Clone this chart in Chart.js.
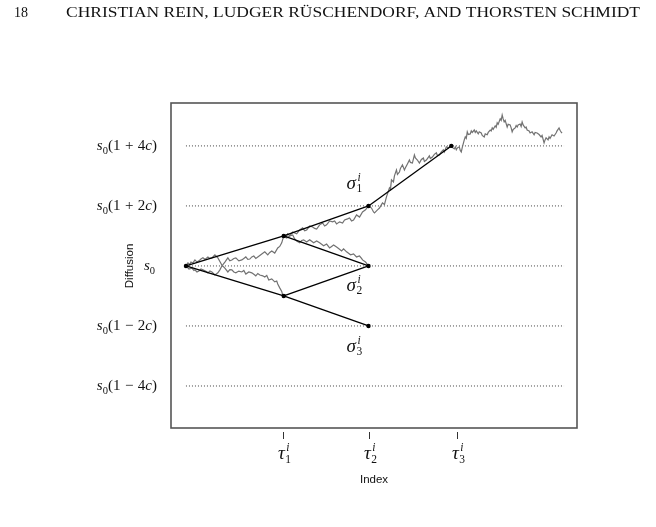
<!DOCTYPE html>
<html>
<head>
<meta charset="utf-8">
<script src="https://cdn.jsdelivr.net/npm/chart.js@4.4.1/dist/chart.umd.min.js"></script>
<style>
  html, body { margin: 0; padding: 0; background: #fff; }
  #wrap { width: 656px; height: 527px; }
</style>
</head>
<body>
<div id="wrap"><canvas id="c" width="656" height="527"></canvas></div>
<script>
// Binomial-tree sketch over simulated diffusion paths (index vs. level in units of c).

const walkUpDown = [
  [0, 0], [2, 0.10], [4, 0.05], [5, 0.13], [7, 0.10], [9, 0.20], [11, 0.13], [13, 0.17], [15, 0.23],
  [17, 0.27], [19, 0.22], [22, 0.30], [24, 0.25], [26, 0.27], [29, 0.37], [32, 0.27], [34, 0.15],
  [36, 0.03], [39, -0.07], [42, -0.20], [44, -0.12], [46, -0.13], [48, -0.20], [50, -0.23],
  [53, -0.17], [56, -0.20], [58, -0.15], [60, -0.27], [63, -0.20], [66, -0.23], [68, -0.28],
  [70, -0.33], [72, -0.25], [74, -0.30], [77, -0.33], [79, -0.37], [81, -0.32], [83, -0.47],
  [86, -0.43], [89, -0.53], [91, -0.50], [92, -0.60], [94, -0.73], [96, -0.85], [97, -0.97], [98, -1.0],
];

const walkDownUp = [
  [0, 0], [3, -0.10], [6, -0.07], [8, -0.15], [9, -0.13], [11, -0.20], [13, -0.17], [15, -0.10],
  [17, -0.13], [20, -0.18], [22, -0.23], [24, -0.17], [26, -0.20], [29, -0.30], [32, -0.23],
  [34, -0.13], [36, 0], [39, 0.13], [42, 0.27], [44, 0.17], [46, 0.20], [48, 0.25], [50, 0.27],
  [53, 0.17], [56, 0.20], [58, 0.25], [60, 0.30], [62, 0.22], [64, 0.23], [66, 0.30], [68, 0.33],
  [70, 0.25], [72, 0.30], [74, 0.35], [76, 0.40], [79, 0.47], [82, 0.37], [84, 0.45], [86, 0.50],
  [89, 0.43], [92, 0.60], [94, 0.65], [96, 0.77], [98, 1.0],
  [100, 0.95], [102, 1.07], [104, 1.00], [107, 1.13], [109, 1.10], [111, 1.07], [114, 1.20],
  [117, 1.27], [119, 1.17], [121, 1.20], [124, 1.33], [127, 1.30], [129, 1.25], [131, 1.23],
  [134, 1.37], [137, 1.43], [139, 1.33], [141, 1.37], [144, 1.50], [147, 1.47], [149, 1.50],
  [151, 1.40], [154, 1.47], [157, 1.43], [159, 1.53], [162, 1.57], [164, 1.60], [166, 1.50],
  [168, 1.53], [171, 1.70], [174, 1.63], [177, 1.80], [180, 1.87], [183, 2.0], [186, 1.93],
  [188, 1.80], [189, 1.77], [192, 1.87], [194, 1.93], [197, 2.10], [199, 2.05], [201, 2.30],
  [204, 2.60], [205, 2.55], [206, 2.87], [208, 2.80], [209, 3.00], [211, 3.20], [212, 3.05],
  [214, 3.13], [215, 3.25], [217, 3.37], [219, 3.20], [220, 3.27], [222, 3.40], [224, 3.53],
  [225, 3.45], [227, 3.43], [229, 3.70], [230, 3.60], [232, 3.53], [234, 3.43], [236, 3.55],
  [238, 3.60], [239, 3.48], [241, 3.53], [244, 3.67], [245, 3.58], [247, 3.63], [249, 3.72],
  [251, 3.77], [252, 3.68], [254, 3.70], [256, 3.80], [258, 3.87], [259, 3.80], [261, 3.97],
  [263, 3.93], [266, 4.03], [267, 3.95], [269, 3.90], [270, 3.97], [271, 3.87], [272, 3.93],
  [274, 3.97], [275, 3.85], [276, 3.80], [277, 3.95], [279, 4.20], [280, 4.30], [281, 4.25],
  [282, 4.47], [283, 4.38], [285, 4.40], [286, 4.50], [287, 4.45], [289, 4.53], [290, 4.45],
  [291, 4.50], [293, 4.40], [294, 4.47], [296, 4.43], [297, 4.35], [299, 4.30], [300, 4.40],
  [302, 4.37], [303, 4.45], [305, 4.53], [306, 4.50], [307, 4.60], [308, 4.55], [310, 4.67],
  [311, 4.62], [312, 4.77], [313, 4.72], [315, 4.90], [316, 4.85], [317, 5.03], [318, 4.90],
  [319, 4.80], [320, 4.85], [322, 4.63], [323, 4.72], [325, 4.70], [326, 4.60], [327, 4.47],
  [328, 4.55], [330, 4.60], [331, 4.68], [332, 4.63], [333, 4.70], [335, 4.73], [336, 4.65],
  [337, 4.80], [338, 4.70], [340, 4.60], [341, 4.63], [342, 4.53], [344, 4.50], [345, 4.43],
  [347, 4.47], [349, 4.37], [350, 4.45], [352, 4.43], [354, 4.38], [356, 4.30], [357, 4.35],
  [359, 4.10], [360, 4.20], [361, 4.27], [363, 4.20], [364, 4.30], [365, 4.25], [367, 4.37],
  [369, 4.33], [371, 4.43], [372, 4.50], [374, 4.60], [375, 4.52], [376, 4.47], [377, 4.43],
];

const walkBranch = [
  [98, 1.0], [101, 0.93], [104, 1.0], [107, 1.03], [109, 0.90], [111, 0.83], [114, 0.77],
  [116, 0.85], [118, 0.87], [121, 0.80], [124, 0.87], [126, 0.82], [128, 0.77], [131, 0.83],
  [134, 0.77], [136, 0.72], [138, 0.67], [141, 0.73], [144, 0.60], [146, 0.65], [148, 0.70],
  [151, 0.63], [153, 0.58], [156, 0.50], [158, 0.57], [161, 0.47], [163, 0.42], [165, 0.37],
  [168, 0.40], [171, 0.30], [174, 0.33], [176, 0.25], [177, 0.20], [180, 0.13], [183, 0],
];

// tree nodes (index, level) and the edges between them
const nodeX = [0, 98, 98, 183, 183, 183, 266];
const nodeY = [0, 1, -1, 2, 0, -2, 4];
const treeEdges = [[0, 1], [0, 2], [1, 3], [1, 4], [2, 4], [2, 5], [3, 6]];

// dotted reference levels and their labels
const levelValues = [4, 2, 0, -2, -4];
const levelText = ['(1 + 4c)', '(1 + 2c)', '', '(1 − 2c)', '(1 − 4c)'];
const levelFrom = 0;
const levelTo = 379;

// stopping times on the x axis, stopping levels next to nodes
const tauTicks = [97, 183, 272];
const tauSubs = ['1', '2', '3'];
const sigmaNodes = [3, 4, 5];
const sigmaSubs = ['1', '2', '3'];

const title = 'CHRISTIAN REIN, LUDGER RÜSCHENDORF, AND THORSTEN SCHMIDT';
const pageNo = '18';

const SERIF = '"Liberation Serif", "Times New Roman", serif';
const SANS = '"Liberation Sans", Arial, sans-serif';

const toPts = (pairs) => pairs.map(([x, y]) => ({ x, y }));

const datasets = [];

datasets.push({
  label: 'nodes',
  data: nodeX.map((x, i) => ({ x, y: nodeY[i] })),
  showLine: false,
  pointRadius: 2.2,
  pointBackgroundColor: '#000',
  pointBorderWidth: 0,
  order: 0,
});

treeEdges.forEach(([a, b]) => {
  datasets.push({
    label: 'edge',
    data: [{ x: nodeX[a], y: nodeY[a] }, { x: nodeX[b], y: nodeY[b] }],
    borderColor: '#000',
    borderWidth: 1.3,
    pointRadius: 0,
    order: 1,
  });
});

[walkUpDown, walkDownUp, walkBranch].forEach((w) => {
  datasets.push({
    label: 'path',
    data: toPts(w),
    borderColor: '#727272',
    borderWidth: 1.2,
    pointRadius: 0,
    tension: 0,
    order: 2,
  });
});

levelValues.forEach((v) => {
  datasets.push({
    label: 'level',
    data: [{ x: levelFrom, y: v }, { x: levelTo, y: v }],
    borderColor: '#444',
    borderWidth: 1,
    borderDash: [1, 2],
    pointRadius: 0,
    order: 3,
  });
});

// --- little math-text renderer: runs of upright/italic text, gaps, stacked sub/sup
function runWidth(ctx, r) {
  if (r.gap) return r.gap;
  if (r.stack) {
    ctx.font = r.supF;
    const a = ctx.measureText(r.sup).width;
    ctx.font = r.subF;
    return Math.max(a, ctx.measureText(r.sub).width);
  }
  ctx.font = r.f;
  return ctx.measureText(r.t).width;
}

function drawRuns(ctx, runs, x, y, align) {
  const w = runs.reduce((s, r) => s + runWidth(ctx, r), 0);
  let cx = align === 'right' ? x - w : align === 'center' ? x - w / 2 : x;
  runs.forEach((r) => {
    const rw = runWidth(ctx, r);
    if (r.stack) {
      ctx.font = r.supF;
      ctx.fillText(r.sup, cx + 1, y - r.up);
      ctx.font = r.subF;
      ctx.fillText(r.sub, cx, y + r.down);
    } else if (!r.gap) {
      ctx.font = r.f;
      ctx.fillText(r.t, cx, y + (r.dy || 0));
    }
    cx += rw;
  });
}

function levelRuns(txt) {
  const runs = [
    { t: 's', f: `italic 15px ${SERIF}` },
    { t: '0', f: `10.5px ${SERIF}`, dy: 3.5 },
  ];
  for (const ch of txt) {
    if (ch === ' ') runs.push({ gap: 4.5 });
    else if (ch === 'c') runs.push({ t: ch, f: `italic 15px ${SERIF}` });
    else runs.push({ t: ch, f: `15px ${SERIF}` });
  }
  return runs;
}

function greekRuns(sym, sub) {
  return [
    { t: sym, f: `italic 19px ${SERIF}` },
    { gap: 0.5 },
    { stack: true, sup: 'i', sub, supF: `italic 11.5px ${SERIF}`, subF: `11.5px ${SERIF}`, up: 8, down: 3.5 },
  ];
}

const annotate = {
  id: 'annotate',
  afterDraw(chart) {
    const { ctx, chartArea: a, scales: { x, y } } = chart;
    ctx.save();
    ctx.fillStyle = '#111';
    ctx.textBaseline = 'alphabetic';

    // frame
    ctx.strokeStyle = '#555';
    ctx.lineWidth = 1.6;
    ctx.strokeRect(a.left, a.top, a.right - a.left, a.bottom - a.top);

    // stopping-time ticks
    ctx.strokeStyle = '#333';
    ctx.lineWidth = 1;
    tauTicks.forEach((v, k) => {
      const px = Math.round(x.getPixelForValue(v)) + 0.5;
      ctx.beginPath();
      ctx.moveTo(px, a.bottom + 4);
      ctx.lineTo(px, a.bottom + 11);
      ctx.stroke();
      drawRuns(ctx, greekRuns('τ', tauSubs[k]), px + 1, a.bottom + 31, 'center');
    });

    // level labels
    levelValues.forEach((v, k) => {
      const py = y.getPixelForValue(v);
      drawRuns(ctx, levelRuns(levelText[k]), levelText[k] ? 157 : 155, py + 4.5, 'right');
    });

    // stopping levels
    const sigmaDy = [-17, 25, 26];
    sigmaNodes.forEach((n, k) => {
      const px = x.getPixelForValue(nodeX[n]);
      const py = y.getPixelForValue(nodeY[n]);
      drawRuns(ctx, greekRuns('σ', sigmaSubs[k]), px - 22, py + sigmaDy[k], 'left');
    });

    // axis titles
    ctx.font = `11.5px ${SANS}`;
    ctx.textAlign = 'center';
    ctx.fillText('Index', (a.left + a.right) / 2, a.bottom + 55);
    ctx.save();
    ctx.translate(133, y.getPixelForValue(0));
    ctx.rotate(-Math.PI / 2);
    ctx.fillText('Diffusion', 0, 0);
    ctx.restore();

    // running head
    ctx.textAlign = 'left';
    ctx.font = `14px ${SERIF}`;
    ctx.fillText(pageNo, 14, 17);
    const tw = ctx.measureText(title).width;
    ctx.save();
    ctx.translate(66, 17);
    ctx.scale(574 / tw, 1);
    ctx.fillText(title, 0, 0);
    ctx.restore();

    ctx.restore();
  },
};

new Chart(document.getElementById('c').getContext('2d'), {
  type: 'line',
  data: { datasets },
  options: {
    responsive: false,
    animation: false,
    devicePixelRatio: 1,
    layout: { padding: { left: 171, right: 79, top: 103, bottom: 99 } },
    scales: {
      x: { type: 'linear', min: -15, max: 392, display: false },
      y: { type: 'linear', min: -5.4, max: 5.43, display: false },
    },
    plugins: {
      legend: { display: false },
      tooltip: { enabled: false },
    },
  },
  plugins: [annotate],
});
</script>
</body>
</html>
